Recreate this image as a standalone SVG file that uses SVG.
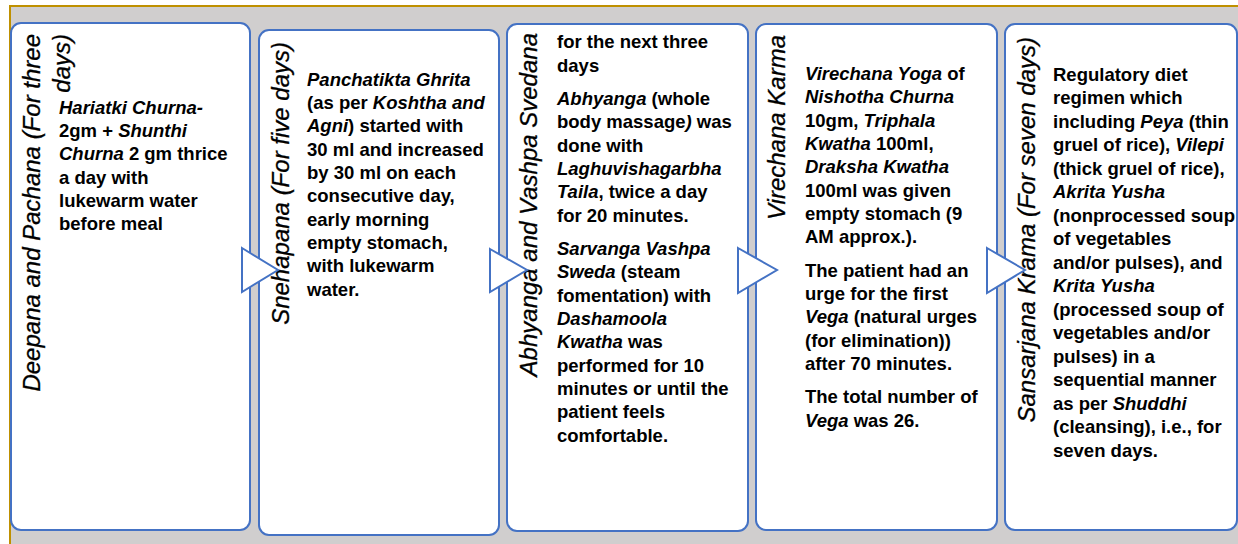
<svg xmlns="http://www.w3.org/2000/svg" width="1238" height="544" viewBox="0 0 1238 544">
<style>
.bg{fill:#d0cece}
.frame{fill:none;stroke:#bf9000;stroke-width:2}
.panel{fill:#fff;stroke:#4472c4;stroke-width:2}
.arrow{fill:#fff;stroke:#4472c4;stroke-width:2;stroke-linejoin:miter}
.t{font-family:"Liberation Sans",Arial,sans-serif;font-style:italic;font-size:24px;fill:#000;stroke:#000;stroke-width:0.3}
.b{font-family:"Liberation Sans",Arial,sans-serif;font-weight:bold;font-size:18.5px;fill:#000}
.i{font-style:italic}
</style>
<rect x="0" y="0" width="1238" height="544" fill="#fff"/>
<rect class="bg" x="10" y="6" width="1228" height="538"/>
<path class="frame" d="M10,544 V6 H1238"/>

<g id="node1">
<rect class="panel" x="11" y="23" width="239" height="507" rx="10"/>
<text class="t" text-anchor="end" transform="translate(39.5,34) rotate(-90)">Deepana and Pachana (For three</text>
<text class="t" text-anchor="end" transform="translate(70,34) rotate(-90)">days)</text>
<text class="b">
<tspan x="59" y="114" class="i">Hariatki Churna-</tspan>
<tspan x="59" y="137">2gm + <tspan class="i">Shunthi</tspan></tspan>
<tspan x="59" y="160"><tspan class="i">Churna</tspan> 2 gm thrice</tspan>
<tspan x="59" y="184">a day with</tspan>
<tspan x="59" y="207">lukewarm water</tspan>
<tspan x="59" y="230">before meal</tspan>
</text>
</g>

<g id="node2">
<rect class="panel" x="259" y="30" width="240" height="505" rx="10"/>
<text class="t" text-anchor="end" transform="translate(289,42) rotate(-90)">Snehapana (For five days)</text>
<text class="b">
<tspan x="307" y="86" class="i">Panchatikta Ghrita</tspan>
<tspan x="307" y="109">(as per <tspan class="i">Koshtha and</tspan></tspan>
<tspan x="307" y="132"><tspan class="i">Agni</tspan>) started with</tspan>
<tspan x="307" y="156">30 ml and increased</tspan>
<tspan x="307" y="179">by 30 ml on each</tspan>
<tspan x="307" y="202">consecutive day,</tspan>
<tspan x="307" y="226">early morning</tspan>
<tspan x="307" y="249">empty stomach,</tspan>
<tspan x="307" y="272">with lukewarm</tspan>
<tspan x="307" y="296">water.</tspan>
</text>
</g>

<g id="node3">
<rect class="panel" x="507" y="24" width="241" height="507" rx="10"/>
<text class="t" text-anchor="end" transform="translate(537,33) rotate(-90)">Abhyanga and Vashpa Svedana</text>
<text class="b">
<tspan x="557" y="48">for the next three</tspan>
<tspan x="557" y="72">days</tspan>
<tspan x="557" y="105"><tspan class="i">Abhyanga</tspan> (whole</tspan>
<tspan x="557" y="128">body massage<tspan class="i">)</tspan> was</tspan>
<tspan x="557" y="152">done with</tspan>
<tspan x="557" y="175" class="i">Laghuvishagarbha</tspan>
<tspan x="557" y="198"><tspan class="i">Taila</tspan>, twice a day</tspan>
<tspan x="557" y="222">for 20 minutes.</tspan>
<tspan x="557" y="255" class="i">Sarvanga Vashpa</tspan>
<tspan x="557" y="278"><tspan class="i">Sweda</tspan> (steam</tspan>
<tspan x="557" y="302">fomentation) with</tspan>
<tspan x="557" y="325" class="i">Dashamoola</tspan>
<tspan x="557" y="348"><tspan class="i">Kwatha</tspan> was</tspan>
<tspan x="557" y="372">performed for 10</tspan>
<tspan x="557" y="395">minutes or until the</tspan>
<tspan x="557" y="418">patient feels</tspan>
<tspan x="557" y="442">comfortable.</tspan>
</text>
</g>

<g id="node4">
<rect class="panel" x="756" y="24" width="241" height="506" rx="10"/>
<text class="t" text-anchor="end" transform="translate(785,35) rotate(-90)">Virechana Karma</text>
<text class="b">
<tspan x="805" y="80"><tspan class="i">Virechana Yoga</tspan> of</tspan>
<tspan x="805" y="103" class="i">Nishotha Churna</tspan>
<tspan x="805" y="127">10gm, <tspan class="i">Triphala</tspan></tspan>
<tspan x="805" y="150"><tspan class="i">Kwatha</tspan> 100ml,</tspan>
<tspan x="805" y="173" class="i">Draksha Kwatha</tspan>
<tspan x="805" y="197">100ml was given</tspan>
<tspan x="805" y="220">empty stomach (9</tspan>
<tspan x="805" y="243">AM approx.).</tspan>
<tspan x="805" y="277">The patient had an</tspan>
<tspan x="805" y="300">urge for the first</tspan>
<tspan x="805" y="323"><tspan class="i">Vega</tspan> (natural urges</tspan>
<tspan x="805" y="347">(for elimination))</tspan>
<tspan x="805" y="370">after 70 minutes.</tspan>
<tspan x="805" y="403">The total number of</tspan>
<tspan x="805" y="427"><tspan class="i">Vega</tspan> was 26.</tspan>
</text>
</g>

<g id="node5">
<rect class="panel" x="1005" y="24" width="232" height="506" rx="10"/>
<text class="t" text-anchor="end" transform="translate(1035,37) rotate(-90)">Sansarjana Krama (For seven days)</text>
<text class="b">
<tspan x="1053" y="81">Regulatory diet</tspan>
<tspan x="1053" y="104">regimen which</tspan>
<tspan x="1053" y="128">including <tspan class="i">Peya</tspan> (thin</tspan>
<tspan x="1053" y="151">gruel of rice), <tspan class="i">Vilepi</tspan></tspan>
<tspan x="1053" y="175">(thick gruel of rice),</tspan>
<tspan x="1053" y="198" class="i">Akrita Yusha</tspan>
<tspan x="1053" y="222">(nonprocessed soup</tspan>
<tspan x="1053" y="245">of vegetables</tspan>
<tspan x="1053" y="269">and/or pulses), and</tspan>
<tspan x="1053" y="292" class="i">Krita Yusha</tspan>
<tspan x="1053" y="316">(processed soup of</tspan>
<tspan x="1053" y="339">vegetables and/or</tspan>
<tspan x="1053" y="363">pulses) in a</tspan>
<tspan x="1053" y="386">sequential manner</tspan>
<tspan x="1053" y="410">as per <tspan class="i">Shuddhi</tspan></tspan>
<tspan x="1053" y="433">(cleansing), i.e., for</tspan>
<tspan x="1053" y="457">seven days.</tspan>
</text>
</g>

<g id="connectors">
<polygon class="arrow" points="242,248 278,270 242,292"/>
<polygon class="arrow" points="490,249 527,270 490,292"/>
<polygon class="arrow" points="738,248 777,270 738,293"/>
<polygon class="arrow" points="987,248 1025,270 987,293"/>
</g>
</svg>
